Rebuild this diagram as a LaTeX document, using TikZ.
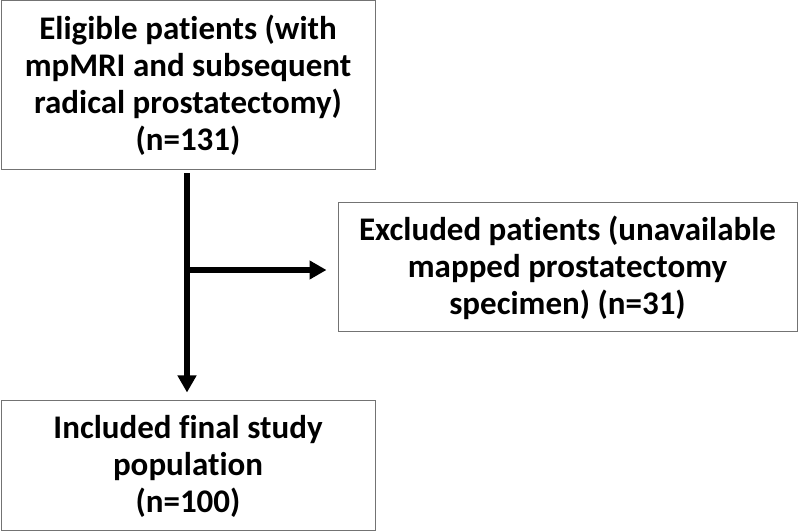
\documentclass[tikz,border=0pt]{standalone}
\usepackage{fontspec}
\setmainfont[Ligatures=CommonOff]{Carlito}
\usetikzlibrary{arrows.meta,positioning}
\begin{document}
\begin{tikzpicture}[x=1pt,y=1pt,
    box/.style={draw=black!55, line width=1pt, align=center, inner sep=0pt,
      font=\fontsize{33}{37}\selectfont\bfseries},
    flow/.style={line width=6pt, -{Triangle[length=17pt,width=18pt]}}]
    \useasboundingbox (0,0) rectangle (800,532);
    \node[box, minimum width=374pt, minimum height=169pt] (eligible) at (188,446.5)
      {Eligible patients (with\\mpMRI and subsequent\\radical prostatectomy)\\(n=131)};
    \node[box, minimum width=459pt, minimum height=129pt] (excluded) at (567.5,264.5)
      {Excluded patients (unavailable\\mapped prostatectomy\\specimen) (n=31)};
    \node[box, minimum width=374pt, minimum height=130pt] (included) at (188,66)
      {Included final study\\population\\(n=100)};
    \coordinate (split) at (187,262);

    \draw[flow, shorten <=3pt, shorten >=8pt] (eligible.south -| split) -- (included.north -| split);
    \draw[flow, shorten >=11pt] ([xshift=-3pt]split) -- (split -| excluded.west);
\end{tikzpicture}
\end{document}
